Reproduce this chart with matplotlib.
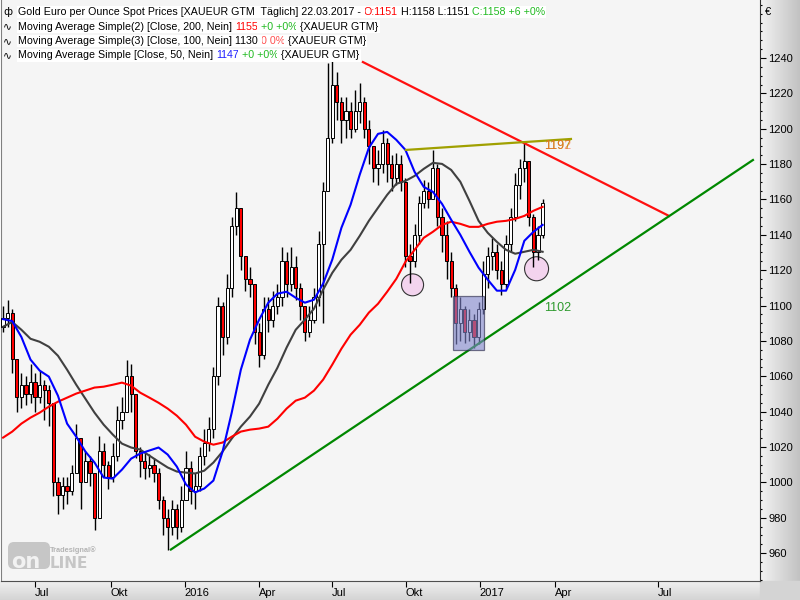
import numpy as np
import matplotlib
matplotlib.use("Agg")
import matplotlib.pyplot as plt
from matplotlib.patches import Ellipse, Rectangle, FancyBboxPatch
from matplotlib.ticker import MultipleLocator

# candles, one per 4 trading days
closes = [1093, 1096, 1070, 1048, 1055, 1050, 1057, 1048, 1055, 1052,
          1045, 1000, 993, 998, 995, 1005, 1025, 1000, 1012, 1005,
          980, 1018, 1010, 1003, 1015, 1035, 1040, 1060, 1050, 1018,
          1012, 1008, 1010, 1005, 990, 980, 975, 985, 975, 990,
          1008, 995, 998, 1015, 1022, 1030, 1060, 1100, 1082, 1110,
          1145, 1155, 1128, 1115, 1112, 1085, 1072, 1098, 1092, 1100,
          1105, 1125, 1112, 1122, 1110, 1100, 1085, 1092, 1105, 1135,
          1165, 1195, 1225, 1215, 1205, 1210, 1200, 1210, 1215, 1200,
          1190, 1178, 1180, 1192, 1180, 1172, 1180, 1170, 1128, 1125,
          1140, 1158, 1165, 1160, 1178, 1150, 1140, 1125, 1110, 1090,
          1098, 1085, 1092, 1082, 1098, 1118, 1128, 1130, 1120, 1112,
          1135, 1150, 1168, 1178, 1182, 1150, 1130, 1140, 1158]
highs = [1100, 1103, 1098, 1070, 1062, 1060, 1067, 1062, 1063, 1058,
         1055, 1045, 1003, 1003, 1003, 1010, 1033, 1025, 1018, 1015,
         1005, 1026, 1022, 1012, 1022, 1043, 1048, 1069, 1067, 1050,
         1020, 1018, 1016, 1014, 1008, 992, 985, 990, 988, 998,
         1018, 1012, 1005, 1020, 1030, 1037, 1065, 1105, 1102, 1118,
         1150, 1164, 1155, 1128, 1122, 1112, 1090, 1105, 1105, 1108,
         1112, 1133, 1130, 1133, 1128, 1113, 1100, 1100, 1110, 1142,
         1170, 1237, 1239, 1232, 1218, 1218, 1215, 1222, 1226, 1218,
         1205, 1190, 1188, 1199, 1195, 1185, 1186, 1185, 1172, 1135,
         1146, 1162, 1171, 1170, 1188, 1180, 1155, 1148, 1130, 1112,
         1105, 1100, 1098, 1095, 1102, 1125, 1133, 1138, 1135, 1125,
         1140, 1155, 1175, 1183, 1192, 1182, 1152, 1145, 1160]
lows = [1085, 1088, 1062, 1040, 1042, 1044, 1045, 1040, 1045, 1035,
        1032, 992, 982, 985, 988, 993, 1005, 985, 1000, 998,
        973, 980, 1003, 996, 1000, 1012, 1030, 1040, 1040, 1014,
        1003, 1002, 1003, 1000, 985, 970, 962, 970, 968, 972,
        990, 988, 985, 995, 1010, 1018, 1025, 1055, 1072, 1078,
        1105, 1140, 1120, 1108, 1105, 1078, 1065, 1070, 1085, 1088,
        1095, 1100, 1105, 1108, 1103, 1092, 1080, 1082, 1090, 1100,
        1090, 1165, 1192, 1205, 1192, 1195, 1195, 1198, 1203, 1195,
        1180, 1170, 1168, 1175, 1170, 1165, 1168, 1165, 1122, 1113,
        1122, 1135, 1155, 1155, 1160, 1145, 1130, 1115, 1105, 1078,
        1080, 1079, 1080, 1076, 1078, 1095, 1110, 1120, 1115, 1106,
        1110, 1130, 1148, 1160, 1170, 1145, 1122, 1126, 1138]
opens = [1088] + closes[:-1]

# moving averages, sampled every second candle
sma50 = [1092.3, 1091.2, 1082.2, 1069.4, 1063.2, 1059.8, 1049, 1033.2, 1025.8, 1017.4,
         1011.2, 1002.7, 1002.1, 1007.2, 1013.4, 1016.3, 1018, 1019.7, 1015.7, 1008.9,
         998.8, 994.3, 996.5, 1001, 1017.4, 1039.4, 1063.7, 1080.7, 1092, 1101.6,
         1106.7, 1107.8, 1104.4, 1101.6, 1103.3, 1112.4, 1126, 1144, 1157, 1174,
         1189.2, 1197.1, 1198.2, 1193.7, 1188, 1175.6, 1167.1, 1164.3, 1157.5, 1148.5,
         1140, 1130.4, 1121.4, 1114.6, 1108.4, 1108.4, 1120.2, 1136.6, 1141.7, 1145.6]
sma100 = [1088, 1090.7, 1086.3, 1081.2, 1079.5, 1076.7, 1071.6, 1063.7, 1055.2, 1047.3,
          1039.4, 1032.6, 1027, 1021.9, 1019.7, 1018.5, 1015.1, 1011.7, 1008.4, 1006.1,
          1005.5, 1005, 1006.6, 1011.2, 1017.4, 1024.7, 1031.5, 1037.2, 1044.5, 1055.2,
          1064.8, 1076.2, 1086.3, 1092, 1098.2, 1109, 1118.5, 1125.9, 1131.5, 1139.4,
          1147.9, 1155.3, 1162.6, 1168.8, 1170.5, 1173.3, 1177.3, 1180.7, 1180.1, 1176.7,
          1170, 1159.2, 1147.9, 1141.1, 1136, 1131.5, 1129.3, 1130.4, 1131.5, 1130.4]
sma200 = [1025.3, 1028.7, 1033.2, 1036.6, 1039.4, 1042.8, 1045.6, 1047.9, 1050.2, 1051.9,
          1053.6, 1054.1, 1055.2, 1056.4, 1054.7, 1050.7, 1047.9, 1045, 1041.7, 1037.7,
          1032.6, 1025.8, 1023, 1021.3, 1022.5, 1025.8, 1028.7, 1029.8, 1030.4, 1031.5,
          1036, 1041.7, 1046.2, 1047.9, 1051.9, 1058.1, 1066.6, 1075.6, 1083.5, 1089.1,
          1096, 1101, 1107.8, 1115.1, 1124.7, 1131.5, 1138.3, 1141.7, 1145.6, 1147.4,
          1146.2, 1144.5, 1144.5, 1146.2, 1147.4, 1147.9, 1149, 1150.7, 1153.6, 1155.8]

# drawn trend lines (trading day, price)
resist_t, resist_p = [316.8, 584.5], [1237.7, 1150.7]
support_t, support_p = [148.8, 658.0], [962.0, 1182.3]
neck_t, neck_p = [354.4, 498.8], [1188.0, 1194.2]

xtick_pos = [29.75, 96.25, 161, 225.75, 289.6, 354.4, 419.1, 484.75, 575]
xtick_lab = ["Jul", "Okt", "2016", "Apr", "Jul", "Okt", "2017", "Apr", "Jul"]

plt.rcParams['font.family'] = ['Liberation Sans', 'DejaVu Sans']

fig = plt.figure(figsize=(8, 6), dpi=100)

# gray gradient frame (pixel coords, origin top left)
bg = fig.add_axes([0, 0, 1, 1], zorder=-5)
bg.set_xlim(0, 800)
bg.set_ylim(600, 0)
bg.axis('off')
grad_h = np.linspace(0.95, 0.76, 64)[None, :]
bg.imshow(grad_h, cmap='gray', vmin=0, vmax=1, extent=(760, 800, 581, 0), aspect='auto')
grad_v = np.linspace(0.94, 0.83, 32)[:, None]
bg.imshow(grad_v, cmap='gray', vmin=0, vmax=1, extent=(0, 760, 600, 581), aspect='auto')
bg.add_patch(Rectangle((760, 581), 40, 19, color='#d4d4d4'))

ax = fig.add_axes([0.001, 19 / 600, 759 / 800, 581 / 600])
ax.set_facecolor('#f5f5f5')

# logo
ax.add_patch(FancyBboxPatch((8, 542), 42, 27, boxstyle='round,pad=0,rounding_size=6',
                            transform=bg.transData, facecolor='#c6c6c6', edgecolor='none', zorder=1))
ax.text(11, 568, "on", transform=bg.transData, fontsize=15, fontweight='bold', color='#f2f2f2',
        family='DejaVu Sans', va='baseline', ha='left', zorder=1)
ax.text(50, 568, "LINE", transform=bg.transData, fontsize=11, fontweight='bold', color='#c6c6c6',
        family='DejaVu Sans', va='baseline', ha='left', zorder=1)
ax.text(50, 552, "Tradesignal®", transform=bg.transData, fontsize=5.3, fontweight='bold',
        color='#b4b4b4', va='baseline', ha='left', zorder=1)

bar_days = 4
t = np.arange(len(closes)) * bar_days + 2
o = np.array(opens, float)
c = np.array(closes, float)
ax.vlines(t, lows, highs, color='black', lw=1.0, zorder=3)
body_lo = np.minimum(o, c)
body_h = np.maximum(np.abs(c - o), 0.6)
fc = ['white' if cc >= oo else '#ff0000' for oo, cc in zip(o, c)]
ax.bar(t, body_h, bottom=body_lo, width=2.8, color=fc, edgecolor='black', lw=0.7, zorder=4)

ma_t = t[::2]
ax.plot(ma_t, sma100, color='#404040', lw=1.5, zorder=5)
ax.plot(ma_t, sma200, color='#ff0000', lw=1.5, zorder=5)
ax.plot(ma_t, sma50, color='#0000ff', lw=1.5, zorder=6)

ax.plot(resist_t, resist_p, color='#ff1010', lw=1.6, zorder=7)
ax.plot(support_t, support_p, color='#008800', lw=1.6, zorder=7)
ax.plot(neck_t, neck_p, color='#a0a000', lw=1.6, zorder=7)

# markings
for (cx, cy, w, h) in [(360.2, 1111.7, 19.3, 12.4), (468.7, 1120.8, 21.0, 13.6)]:
    ax.add_patch(Ellipse((cx, cy), w, h, facecolor='#f3d4ee', edgecolor='#333333', lw=0.8, zorder=2))
ax.add_patch(Rectangle((395.5, 1075.0), 27.1, 30.3, facecolor='#7f85cc', alpha=0.6,
                       edgecolor='#202040', lw=0.9, zorder=8))

ax.text(475, 1098.8, "1102", color='#2e9a2e', fontsize=9, va='center', ha='left', zorder=9)
ax.text(475, 1190.3, "1197", color='#b0a000', fontsize=9, va='center', ha='left', zorder=9)
ax.text(475, 1190.3, "1192", color='#ff5a3a', fontsize=9, va='center', ha='left', alpha=0.6, zorder=9)

ax.set_xlim(0, 664)
ax.set_ylim(944.2, 1272.8)

ax.yaxis.tick_right()
ax.set_yticks(range(960, 1241, 20))
ax.yaxis.set_minor_locator(MultipleLocator(5))
ax.tick_params(axis='y', which='major', length=4, width=0.8, labelsize=8, pad=2)
ax.tick_params(axis='y', which='minor', length=1.5, width=0.8)
ax.set_xticks(xtick_pos)
ax.set_xticklabels(xtick_lab)
ax.tick_params(axis='x', length=4, width=0.8, labelsize=8, pad=1)
for lbl in ax.get_xticklabels():
    lbl.set_ha('left')
ax.spines['top'].set_visible(False)
ax.spines['left'].set_color('#808080')
ax.spines['bottom'].set_color('#505050')
ax.spines['right'].set_color('#303030')
for s in ax.spines.values():
    s.set_linewidth(0.8)

fig.text(765 / 800, 1 - 12 / 600, "€", fontsize=8, ha='left', va='center')

# legend rows
rows = [
    ("ф", [("Gold Euro per Ounce Spot Prices [XAUEUR GTM  Täglich] 22.03.2017 - ", 'black'),
           ("O:1151", '#ff0000'), (" H:1158 L:1151 ", 'black'), ("C:1158 +6 +0%", '#22bb22')]),
    ("∿", [("Moving Average Simple(2) [Close, 200, Nein] ", 'black'), ("1155", '#ff0000'),
           (" +0 +0%", '#22bb22'), (" {XAUEUR GTM}", 'black')]),
    ("∿", [("Moving Average Simple(3) [Close, 100, Nein] 1130 ", 'black'), ("0 0%", '#ff5050'),
           (" {XAUEUR GTM}", 'black')]),
    ("∿", [("Moving Average Simple [Close, 50, Nein] ", 'black'), ("1147", '#2020ff'),
           (" +0 +0%", '#22bb22'), (" {XAUEUR GTM}", 'black')]),
]
fs = 7.7
box = dict(facecolor='white', edgecolor='none', pad=0.8)
for k, (icon, parts) in enumerate(rows):
    yb = 1 - (17 + 14.5 * k) / 600
    fig.text(3 / 800, yb, icon, fontsize=fs, va='bottom', ha='left', family='DejaVu Sans', zorder=10)
    prev = fig.text(18 / 800, yb, parts[0][0], color=parts[0][1], fontsize=fs,
                    va='bottom', ha='left', bbox=box, zorder=10)
    for s, col in parts[1:]:
        prev = ax.annotate(s, xy=(1, 0), xycoords=prev, color=col, fontsize=fs,
                           va='bottom', ha='left', bbox=box, zorder=10, annotation_clip=False)

fig.savefig("out.png", dpi=100)
